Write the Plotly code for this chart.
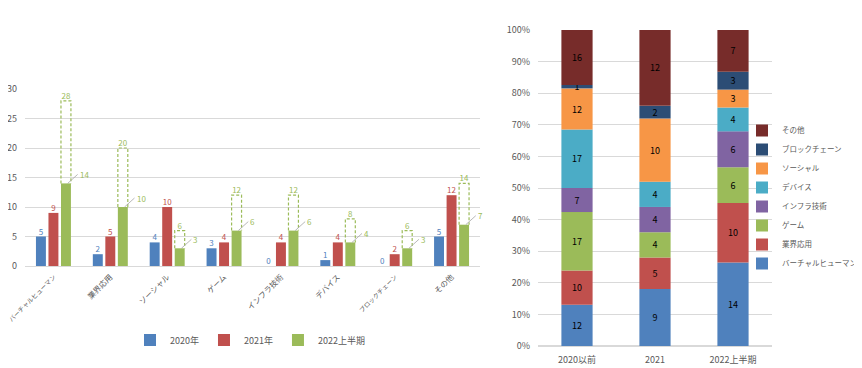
import plotly.graph_objects as go

# ---------------- data: left chart ----------------
categories = ["バーチャルヒューマン", "業界応用", "ソーシャル", "ゲーム",
              "インフラ技術", "デバイス", "ブロックチェーン", "その他"]
y2020 = [5, 2, 4, 3, 0, 1, 0, 5]
y2021 = [9, 5, 10, 4, 4, 4, 2, 12]
y2022h1 = [14, 10, 3, 6, 6, 4, 3, 7]
y2022_est = [28, 20, 6, 12, 12, 8, 6, 14]
year_names = ["2020年", "2021年", "2022上半期"]

# ---------------- data: right chart ----------------
periods = ["2020以前", "2021", "2022上半期"]
stack_names = ["バーチャルヒューマン", "業界応用", "ゲーム", "インフラ技術",
               "デバイス", "ソーシャル", "ブロックチェーン", "その他"]
s_virtual = [12, 9, 14]
s_industry = [10, 5, 10]
s_game = [17, 4, 6]
s_infra = [7, 4, 6]
s_device = [17, 4, 4]
s_social = [12, 10, 3]
s_block = [1, 2, 3]
s_other = [16, 12, 7]

BLUE, RED, GREEN = "#4F81BD", "#C0504D", "#9BBB59"
stack_colors = [BLUE, RED, GREEN, "#8064A2", "#4BACC6", "#F79646", "#2C4D75", "#772C2A"]
FONT = "Noto Sans CJK JP"
GRAY = "#595959"

# page has an 8px body margin: figure is 854x360, placed at (8, 8)
W, H, OFF = 854, 360, 8


def fx(px):
    return (px - OFF) / W


def fy(py):
    return 1 - (py - OFF) / H


fig = go.Figure()

# ---------------- left grouped bars ----------------
step = 0.22
bw = 0.175
xs = list(range(len(categories)))
left_series = [(y2020, BLUE, -1), (y2021, RED, 0), (y2022h1, GREEN, 1)]
for (vals, col, k), name in zip(left_series, year_names):
    fig.add_trace(go.Bar(
        x=xs, y=vals, name=name, marker=dict(color=col, line=dict(width=0)),
        width=bw, offset=k * step - bw / 2, xaxis="x", yaxis="y",
        legend="legend", hoverinfo="skip"))

# labels for blue and red bars
for vals, col, k in left_series[:2]:
    fig.add_trace(go.Scatter(
        x=[i + k * step for i in xs], y=vals, mode="text", text=[str(v) for v in vals],
        textposition="top center", textfont=dict(color=col, size=8, family=FONT),
        showlegend=False, xaxis="x", yaxis="y", hoverinfo="skip"))

# dashed boxes for estimated full-year 2022
bx, by = [], []
for i, (a, b) in enumerate(zip(y2022h1, y2022_est)):
    x0 = i + step - bw / 2
    x1 = i + step + bw / 2
    bx += [x0, x0, x1, x1, None]
    by += [a, b, b, a, None]
fig.add_trace(go.Scatter(
    x=bx, y=by, mode="lines", line=dict(color=GREEN, dash="3px,2px", width=1.2),
    showlegend=False, xaxis="x", yaxis="y", hoverinfo="skip"))
fig.add_trace(go.Scatter(
    x=[i + step for i in xs], y=y2022_est, mode="text", text=[str(v) for v in y2022_est],
    textposition="top center", textfont=dict(color=GREEN, size=8, family=FONT),
    showlegend=False, xaxis="x", yaxis="y", hoverinfo="skip"))

annotations = []
for i, v in enumerate(y2022h1):
    annotations.append(dict(
        x=i + step + 0.03, y=v, xref="x", yref="y", text=str(v),
        showarrow=True, arrowhead=0, arrowwidth=0.8, arrowcolor="#A6A6A6",
        ax=10, ay=-9, xanchor="left", yanchor="middle",
        font=dict(color=GREEN, size=8, family=FONT)))

# category tick labels: long katakana labels a little smaller
ticktext = [
    f'<span style="font-size:{6.3 if len(c) > 6 else 7.8}px">{c}</span>'
    for c in categories
]

# ---------------- right 100% stacked bars ----------------
stack_lists = [s_virtual, s_industry, s_game, s_infra, s_device, s_social, s_block, s_other]
totals = [sum(col) for col in zip(*stack_lists)]
cum = [0.0] * len(periods)
for name, vals, col in zip(stack_names, stack_lists, stack_colors):
    pct = [v / t * 100 for v, t in zip(vals, totals)]
    fig.add_trace(go.Bar(
        x=periods, y=pct, base=cum[:], name=name, width=0.4,
        marker=dict(color=col, line=dict(width=0)),
        text=[str(v) for v in vals], textposition="inside", insidetextanchor="middle",
        constraintext="none", textangle=0,
        textfont=dict(color="#000000", size=9, family=FONT),
        xaxis="x2", yaxis="y2", legend="legend2", hoverinfo="skip"))
    cum = [c + p for c, p in zip(cum, pct)]

tickfont = dict(size=9, color=GRAY, family=FONT)
fig.update_layout(
    width=W, height=H,
    margin=dict(l=0, r=0, t=0, b=0, autoexpand=False),
    paper_bgcolor="white", plot_bgcolor="white",
    barmode="overlay",
    font=dict(family=FONT, color=GRAY),
    annotations=annotations,
    xaxis=dict(domain=[fx(25), fx(480)], range=[-0.5, 7.5],
               tickvals=xs, ticktext=ticktext, tickangle=-45,
               showgrid=False, zeroline=False, showline=False, ticks="",
               automargin=False, ticklabeloverflow="allow", ticklabelstandoff=4,
               tickfont=dict(size=7.8, color=GRAY, family=FONT), anchor="y"),
    yaxis=dict(domain=[fy(266), fy(89)], range=[0, 30], dtick=5,
               showgrid=True, gridcolor="#D9D9D9", gridwidth=1,
               zeroline=True, zerolinecolor="#D9D9D9", zerolinewidth=1,
               showline=False, ticks="", tickfont=tickfont, anchor="x",
               automargin=False, ticklabelstandoff=7),
    xaxis2=dict(domain=[fx(538), fx(772)], showgrid=False, zeroline=False,
                showline=False, ticks="", tickfont=tickfont, anchor="y2",
                automargin=False, ticklabelstandoff=7),
    yaxis2=dict(domain=[fy(346), fy(30)], range=[0, 100], dtick=10,
                ticksuffix="%", showgrid=True, gridcolor="#D9D9D9",
                zeroline=True, zerolinecolor="#D9D9D9", showline=False,
                ticks="", tickfont=tickfont, anchor="x2", automargin=False,
                ticklabelstandoff=7),
    legend=dict(orientation="h", x=fx(250), xanchor="center", y=fy(340),
                yanchor="middle", font=dict(size=9, color=GRAY, family=FONT),
                itemwidth=30, bgcolor="rgba(0,0,0,0)"),
    legend2=dict(orientation="v", x=fx(742), xanchor="left", y=fy(197),
                 yanchor="middle", traceorder="reversed", tracegroupgap=0,
                 font=dict(size=7.5, color=GRAY, family=FONT),
                 itemwidth=30, bgcolor="rgba(0,0,0,0)"),
)

fig.write_html("out.html")
